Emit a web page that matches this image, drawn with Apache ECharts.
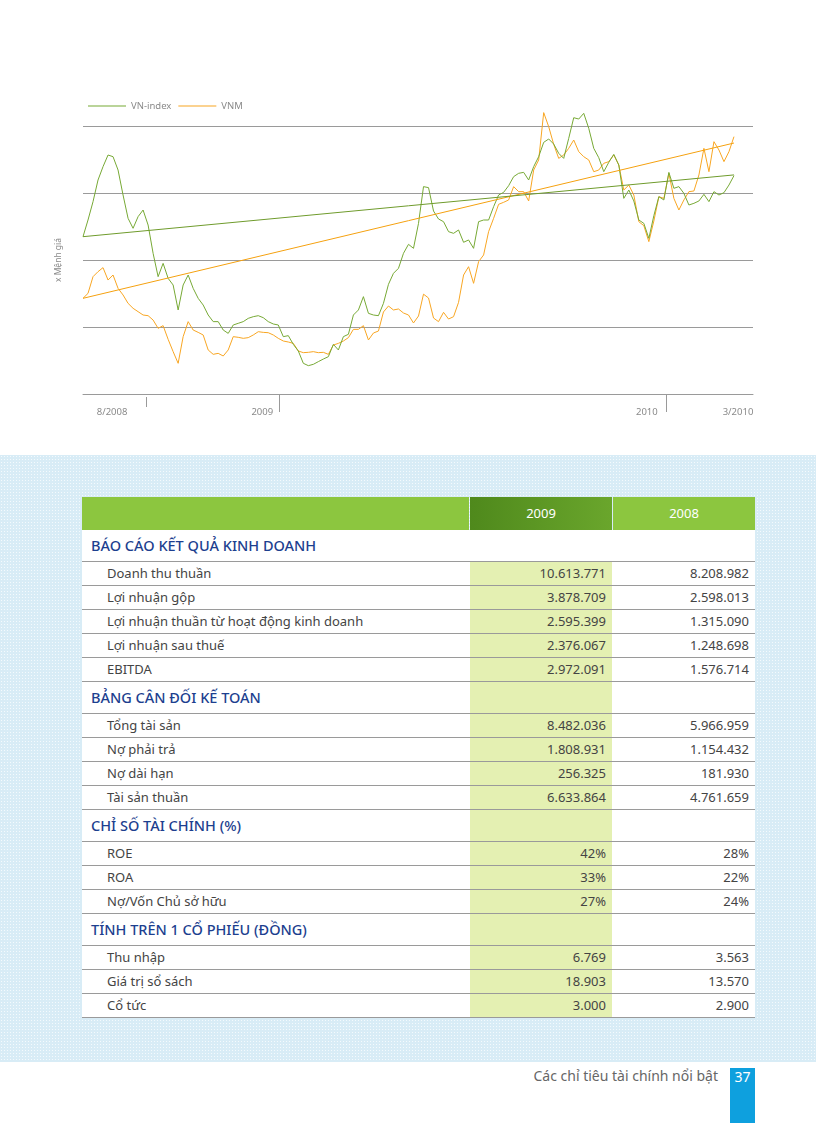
<!DOCTYPE html>
<html><head><meta charset="utf-8">
<script src="https://cdn.jsdelivr.net/npm/echarts@6/dist/echarts.min.js"></script>
<style>
html,body{margin:0;padding:0;}
body{width:816px;height:1123px;position:relative;background:#fff;font-family:"Noto Sans",sans-serif;overflow:hidden;}
#bg{position:absolute;left:0;top:455px;width:816px;height:607px;background-color:#d8ecf6;background-image:radial-gradient(circle,#f4fafd 0.7px,transparent 1px);background-size:3px 3px;}
#chart{position:absolute;left:0;top:0;width:816px;height:450px;}
#tbl{position:absolute;left:82px;top:497px;width:673px;}
.row{display:flex;box-sizing:border-box;}
.c0{width:387px;margin-right:1px;box-sizing:border-box;}
.c1{width:142px;margin-right:1px;box-sizing:border-box;text-align:right;padding-right:6px;}
.c2{width:142px;box-sizing:border-box;text-align:right;padding-right:6px;}
.hdr{height:33px;}
.hdr div{line-height:33px;color:#fff;font-size:13px;text-align:center;padding:0;}
.hdr .c0,.hdr .c2{background:#8cc63f;}
.hdr .c1{background:linear-gradient(to right,#4f891c,#6aa62c);}
.sec{height:32px;border-bottom:1px solid #9a9a9a;background:#fff;}
.sec .c0{line-height:31px;padding-left:9px;color:#1d3f8f;font-size:14.5px;font-weight:500;}
.sec .c1{background:#e4f0b2;}
.sec.first .c1{background:#fff;}
.dat{height:24px;border-bottom:1px solid #9a9a9a;background:#fff;}
.dat div{line-height:23px;font-size:13px;color:#444;}
.dat .c0{padding-left:25px;}
.dat .c1{background:#e4f0b2;}
#foot{position:absolute;right:98px;top:1066px;font-size:14px;color:#666;}
#pg{position:absolute;left:730px;top:1068px;width:25px;height:55px;background:#0ea0de;color:#fff;font-size:14px;text-align:center;line-height:18px;}
</style></head>
<body>
<div id="bg"></div>
<div id="chart"></div>
<div id="tbl"></div>
<div id="foot">Các chỉ tiêu tài chính nổi bật</div>
<div id="pg">37</div>
<script>
// ---- chart data (values in multiples of par value, one sample per step) ----
const vnIndex = [2.348,2.597,2.870,3.194,3.393,3.567,3.542,3.343,2.970,2.622,
2.473,2.647,2.746,2.522,2.100,1.751,1.950,1.726,1.627,1.254,
1.627,1.776,1.577,1.428,1.328,1.179,1.080,1.080,0.955,0.905,
1.030,1.055,1.080,1.129,1.154,1.169,1.139,1.080,1.045,1.030,
0.856,0.871,0.741,0.642,0.458,0.423,0.443,0.483,0.522,0.557,
0.741,0.657,0.856,0.891,1.179,1.254,1.453,1.204,1.179,1.169,
1.353,1.637,1.801,1.876,2.100,2.234,2.174,2.547,3.095,3.080,
2.731,2.612,2.572,2.423,2.398,2.448,2.264,2.299,2.174,2.572,
2.597,2.597,2.796,2.970,3.010,3.109,3.244,3.294,3.308,3.194,
3.393,3.542,3.756,3.806,3.731,3.592,3.517,3.816,4.124,4.104,
4.189,3.965,3.667,3.527,3.318,3.458,3.577,3.418,2.920,3.045,
2.881,2.597,2.547,2.323,2.662,2.945,2.896,3.308,3.070,3.095,
2.995,2.821,2.846,2.881,2.980,2.871,3.020,2.970,3.005,3.119,
3.259];
const vnm = [1.428,1.502,1.751,1.826,1.886,1.701,1.776,1.577,1.478,1.353,
1.279,1.229,1.179,1.169,1.104,0.980,1.020,0.816,0.632,0.458,
0.856,1.080,0.955,0.920,0.881,0.657,0.592,0.607,0.567,0.657,
0.856,0.846,0.831,0.841,0.881,0.930,0.920,0.915,0.881,0.831,
0.791,0.776,0.756,0.642,0.617,0.622,0.632,0.617,0.622,0.592,
0.731,0.756,0.791,0.841,0.965,0.965,1.020,0.806,0.910,0.940,
1.224,1.313,1.254,1.269,1.209,1.179,1.060,1.164,1.490,1.433,
1.134,1.080,1.219,1.119,1.154,1.368,1.776,1.900,1.652,1.975,
2.075,2.423,2.622,2.831,2.861,2.896,3.095,3.020,3.020,2.881,
3.343,3.493,4.200,3.990,3.726,3.517,3.567,3.667,3.791,3.617,
3.542,3.493,3.318,3.343,3.443,3.468,3.567,3.418,3.045,3.119,
2.970,2.572,2.512,2.274,2.582,2.945,2.920,3.294,2.920,2.746,
2.896,3.020,3.030,3.269,3.667,3.318,3.766,3.642,3.468,3.617,
3.841];
const trendVnIndex = [2.348, 3.270];   // start, end of trend line
const trendVnm = [1.428, 3.746];
const seriesNames = ['VN-index', 'VNM'];
const tickLabels = ['8/2008', '2009', '2010', '3/2010'];
const tickLabelAt = [5.8, 35.8, 112.6, 130.8];  // in sample steps
const longTickAt = [39.2, 116.4];
const shortTickAt = [12.6];
const xEnd = 133.8;

// ---- table data ----
const years = ['2009', '2008'];
const sectionTitles = ['BÁO CÁO KẾT QUẢ KINH DOANH', 'BẢNG CÂN ĐỐI KẾ TOÁN', 'CHỈ SỐ TÀI CHÍNH (%)', 'TÍNH TRÊN 1 CỔ PHIẾU (ĐỒNG)'];
const kqkdLabels = ['Doanh thu thuần', 'Lợi nhuận gộp', 'Lợi nhuận thuần từ hoạt động kinh doanh', 'Lợi nhuận sau thuế', 'EBITDA'];
const kqkd2009 = ['10.613.771', '3.878.709', '2.595.399', '2.376.067', '2.972.091'];
const kqkd2008 = ['8.208.982', '2.598.013', '1.315.090', '1.248.698', '1.576.714'];
const cdktLabels = ['Tổng tài sản', 'Nợ phải trả', 'Nợ dài hạn', 'Tài sản thuần'];
const cdkt2009 = ['8.482.036', '1.808.931', '256.325', '6.633.864'];
const cdkt2008 = ['5.966.959', '1.154.432', '181.930', '4.761.659'];
const cstcLabels = ['ROE', 'ROA', 'Nợ/Vốn Chủ sở hữu'];
const cstc2009 = ['42%', '33%', '27%'];
const cstc2008 = ['28%', '22%', '24%'];
const cpLabels = ['Thu nhập', 'Giá trị sổ sách', 'Cổ tức'];
const cp2009 = ['6.769', '18.903', '3.000'];
const cp2008 = ['3.563', '13.570', '2.900'];

// ---- build table ----
(function(){
  const t = document.getElementById('tbl');
  let h = '<div class="row hdr"><div class="c0"></div><div class="c1">'+years[0]+'</div><div class="c2">'+years[1]+'</div></div>';
  const secs = [[kqkdLabels,kqkd2009,kqkd2008],[cdktLabels,cdkt2009,cdkt2008],[cstcLabels,cstc2009,cstc2008],[cpLabels,cp2009,cp2008]];
  secs.forEach((s, k) => {
    h += '<div class="row sec'+(k===0?' first':'')+'"><div class="c0">'+sectionTitles[k]+'</div><div class="c1"></div><div class="c2"></div></div>';
    s[0].forEach((lab, j) => {
      h += '<div class="row dat"><div class="c0">'+lab+'</div><div class="c1">'+s[1][j]+'</div><div class="c2">'+s[2][j]+'</div></div>';
    });
  });
  t.innerHTML = h;
})();

// ---- chart ----
const green = '#77a935', orange = '#f8a623';
const chart = echarts.init(document.getElementById('chart'));
const lastIdx = vnIndex.length - 1;
chart.setOption({
  animation: false,
  textStyle: {fontFamily: 'Noto Sans'},
  legend: {
    data: seriesNames, left: 83, top: 95, itemWidth: 38, itemHeight: 1.2, itemGap: 7,
    icon: 'rect',
    textStyle: {fontSize: 9.5, color: '#8a8a8a', lineHeight: 12}
  },
  grid: {left: 83, right: 63, top: 126, bottom: 56},
  xAxis: [{
    type: 'value', min: 0, max: xEnd, position: 'bottom', offset: 3,
    axisLine: {show: true, lineStyle: {color: '#9a9a9a', width: 1}},
    axisTick: {show: true, customValues: longTickAt, length: 18, lineStyle: {color: '#9a9a9a'}},
    axisLabel: {customValues: tickLabelAt, margin: 10, fontSize: 9.5, color: '#8a8a8a',
      formatter: v => { const k = tickLabelAt.findIndex(p => Math.abs(p - v) < 1e-6); return k >= 0 ? tickLabels[k] : ''; }},
    splitLine: {show: false}
  }, {
    type: 'value', min: 0, max: xEnd, position: 'bottom', offset: 3,
    axisLine: {show: false},
    axisTick: {show: true, customValues: shortTickAt, length: 10, lineStyle: {color: '#9a9a9a'}},
    axisLabel: {show: false}, splitLine: {show: false}
  }],
  yAxis: {
    type: 'value', min: 0, max: 4, interval: 1,
    axisLine: {show: false}, axisTick: {show: false}, axisLabel: {show: false},
    splitLine: {show: true, showMinLine: false, lineStyle: {color: '#9a9a9a', width: 1}},
    name: 'x Mệnh giá', nameLocation: 'middle', nameRotate: 90, nameGap: 20,
    nameTextStyle: {fontSize: 8.5, color: '#8a8a8a'}
  },
  series: [
    {name: seriesNames[1], type: 'line', data: vnm.map((v,i)=>[i,v]), symbol: 'none', clip: false,
     itemStyle: {color: orange}, lineStyle: {color: orange, width: 1}},
    {name: seriesNames[0], type: 'line', data: vnIndex.map((v,i)=>[i,v]), symbol: 'none', clip: false,
     itemStyle: {color: green}, lineStyle: {color: green, width: 1}},
    {name: 'trend VNM', type: 'line', data: [[0, trendVnm[0]], [lastIdx, trendVnm[1]]], symbol: 'none', silent: true,
     lineStyle: {color: '#f5a10f', width: 1}},
    {name: 'trend VN-index', type: 'line', data: [[0, trendVnIndex[0]], [lastIdx, trendVnIndex[1]]], symbol: 'none', silent: true,
     lineStyle: {color: '#6f9b2c', width: 1}}
  ]
});
</script>
</body></html>
